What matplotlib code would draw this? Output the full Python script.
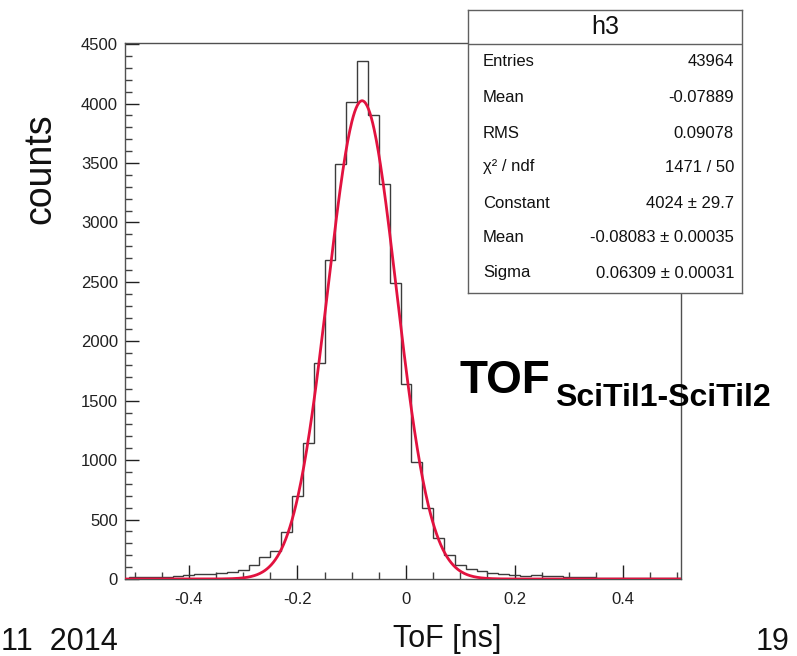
import numpy as np
import matplotlib
matplotlib.use("Agg")
import matplotlib.pyplot as plt
from matplotlib.ticker import MultipleLocator

# ---------------- data ----------------
bin_edges = np.round(np.arange(-0.51, 0.5101, 0.02), 3)
counts = [14, 16, 20, 18, 22, 36, 40, 42, 53, 60,
          78, 120, 185, 235, 395, 695, 1148, 1820, 2687, 3490,
          4016, 4355, 3905, 3322, 2488, 1643, 985, 594, 342, 201,
          118, 81, 67, 48, 39, 34, 28, 30, 24, 22,
          17, 13, 13, 11, 10, 8, 9, 7, 6, 8, 10]

fit_constant = 4024.0
fit_mean = -0.08083
fit_sigma = 0.06309

xticks = [-0.4, -0.2, 0, 0.2, 0.4]
xticklabels = ["-0.4", "-0.2", "0", "0.2", "0.4"]
yticks = [0, 500, 1000, 1500, 2000, 2500, 3000, 3500, 4000, 4500]

stats_title = "h3"
stats_names = ["Entries", "Mean", "RMS", "χ² / ndf", "Constant", "Mean", "Sigma"]
stats_values = ["43964", "-0.07889", "0.09078", "1471 / 50",
                "4024 ± 29.7", "-0.08083 ± 0.00035", "0.06309 ± 0.00031"]

# ---------------- figure ----------------
W, H = 797, 656
fig = plt.figure(figsize=(W / 100, H / 100), dpi=100)
plt.rcParams['font.family'] = ['Liberation Sans', 'DejaVu Sans']

L, R, T, B = 125, 681, 43, 579
ax = fig.add_axes([L / W, 1 - B / H, (R - L) / W, (B - T) / H])
ax.set_xlim(-0.5175, 0.5065)
ax.set_ylim(0, 4510)

ax.stairs(counts, bin_edges, color='#3c3c3c', lw=1.0, zorder=2)

xf = np.linspace(-0.5175, 0.5065, 800)
yf = fit_constant * np.exp(-0.5 * ((xf - fit_mean) / fit_sigma) ** 2)
ax.plot(xf, yf, color='#e2123f', lw=2.0, zorder=3)

for s in ax.spines.values():
    s.set_color('#505050')
    s.set_linewidth(1.0)

ax.set_xticks(xticks)
ax.set_xticklabels(xticklabels)
ax.set_yticks(yticks)
ax.xaxis.set_minor_locator(MultipleLocator(0.05))
ax.yaxis.set_minor_locator(MultipleLocator(100))
ax.tick_params(which='both', direction='in', top=False, right=False,
               color='#404040', width=1.0)
ax.tick_params(which='major', length=10, labelsize=12, colors='#202020')
ax.tick_params(which='minor', length=5)
ax.tick_params(axis='x', which='major', pad=9)
ax.tick_params(axis='y', which='major', pad=5)

# ---------------- stats box ----------------
bL, bR, bT, bB = 468, 742, 10, 293
bax = fig.add_axes([bL / W, 1 - bB / H, (bR - bL) / W, (bB - bT) / H])
bax.set_xlim(0, 1)
bax.set_ylim(0, 1)
bax.set_xticks([])
bax.set_yticks([])
bax.set_facecolor('white')
for s in bax.spines.values():
    s.set_color('#606060')
    s.set_linewidth(1.0)

def by(ypx):
    return 1 - (ypx - bT) / (bB - bT)

bax.axhline(by(44), color='#606060', lw=1.0)
bax.text(0.5, by(27), stats_title, ha='center', va='center', fontsize=18, color='#111111')
rows_y = [62, 98, 133, 167, 203, 238, 273]
for name, val, yp in zip(stats_names, stats_values, rows_y):
    bax.text((483 - bL) / (bR - bL), by(yp), name, ha='left', va='center',
             fontsize=12, color='#111111')
    bax.text((734 - bL) / (bR - bL), by(yp), val, ha='right', va='center',
             fontsize=12, color='#111111')

# ---------------- annotations ----------------
fig.text(460 / W, 1 - 393 / H, "TOF", fontsize=33, fontweight='bold',
         ha='left', va='baseline', color='black')
fig.text(555 / W, 1 - 406 / H, "SciTil1-SciTil2", fontsize=23, fontweight='bold',
         ha='left', va='baseline', color='black')

narrow = ['Liberation Sans Narrow', 'Liberation Sans', 'DejaVu Sans']
fig.text(40 / W, 1 - 169 / H, "counts", rotation=90, fontsize=27, family=narrow,
         ha='center', va='center', color='#111111')
fig.text(447 / W, 1 - 647 / H, "ToF [ns]", fontsize=22, family=narrow,
         ha='center', va='baseline', color='#111111')
fig.text(1 / W, 1 - 650 / H, "11  2014", fontsize=22, family=narrow,
         ha='left', va='baseline', color='#111111')
fig.text(790 / W, 1 - 650 / H, "19", fontsize=22, family=narrow,
         ha='right', va='baseline', color='#111111')

fig.savefig("out.png", dpi=100)
